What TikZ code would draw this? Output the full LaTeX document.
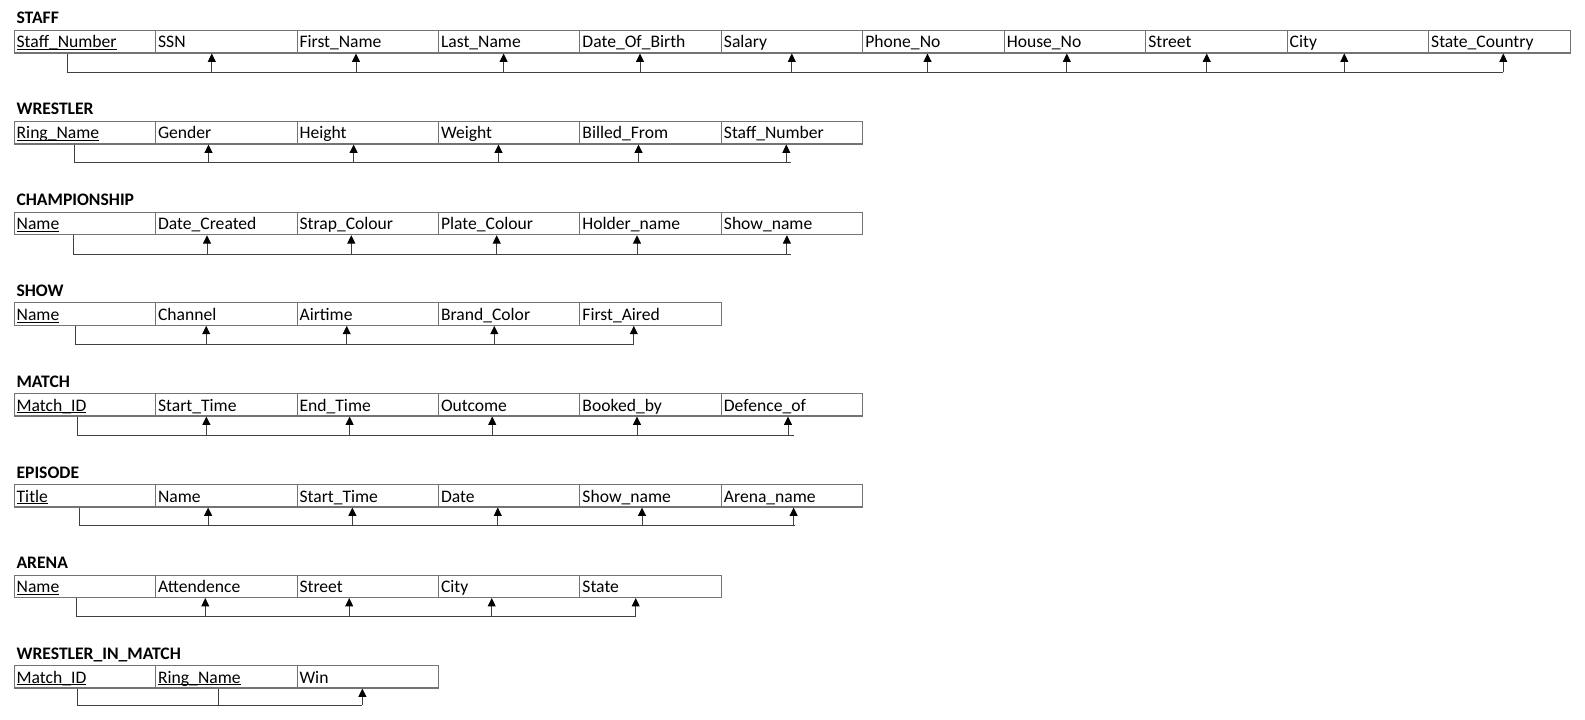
\documentclass[tikz,border=0pt]{standalone}
\usepackage{fontspec}
\setmainfont{Carlito}
\usetikzlibrary{arrows.meta}

% primary-key attribute: underlined name
\newcommand\pkey[1]{\setbox0=\hbox{#1}\rlap{\rule[-1.7pt]{\wd0}{0.7pt}}\box0}

\tikzset{
  attr/.style={draw=black!55, line width=0.8pt, anchor=north west,
    inner xsep=1.9pt, inner ysep=0pt, minimum width=106.09pt,
    text width=102.29pt, align=left, text height=13.1pt, text depth=3.75pt,
    font=\fontsize{13.2pt}{15pt}\selectfont},
  relname/.style={anchor=base west, inner sep=0pt,
    font=\fontsize{13.2pt}{15pt}\selectfont\bfseries},
  bus/.style={draw=black!75, line width=0.7pt},
  fk/.style={draw=black!75, line width=0.7pt,
    -{Triangle[width=6pt,length=6.3pt,fill=black,color=black]}}
}

% #1 prefix, #2 relation name, #3 top y, #4 attribute texts
\newcommand\relation[4]{%
  \node[relname] (#1-title) at (16.3,#3-6) {#2};
  \foreach \txt [count=\i] in {#4} {
    \node[attr] (#1-\i) at ({13.6+(\i-1)*141.45},#3) {\txt};
  }
}
% #1 prefix, #2 key x, #3 line y, #4 line end x, #5 column/x of each arrow
\newcommand\deps[5]{%
  \draw[bus] (#2,0 |- #1-1.south) |- (#4,#3);
  \foreach \c/\ax in {#5} {
    \draw[fk] (\ax,#3) -- (\ax,0 |- #1-\c.south);
  }
}

\begin{document}
\begin{tikzpicture}[x=0.75pt,y=-0.75pt]
\useasboundingbox (0,0) rectangle (1585,720);

\relation{staff}{STAFF}{30}{\pkey{Staff\_Number},SSN,First\_Name,Last\_Name,Date\_Of\_Birth,Salary,Phone\_No,House\_No,Street,City,State\_Country}
\deps{staff}{67.9}{72.3}{1503.3}{2/211.8,3/356,4/503.6,5/640,6/791.8,7/927.5,8/1066.8,9/1206.7,10/1344.3,11/1503.3}

\relation{wrestler}{WRESTLER}{121}{\pkey{Ring\_Name},Gender,Height,Weight,Billed\_From,Staff\_Number}
\deps{wrestler}{74.9}{162.7}{790.7}{2/208.5,3/353.6,4/498.5,5/638.5,6/786.3}

\relation{champ}{CHAMPIONSHIP}{211.7}{\pkey{Name},Date\_Created,Strap\_Colour,Plate\_Colour,Holder\_name,Show\_name}
\deps{champ}{73.8}{254}{790.8}{2/207,3/351.3,4/496.7,5/637,6/786.9}

\relation{show}{SHOW}{302.3}{\pkey{Name},Channel,Airtime,Brand\_Color,First\_Aired}
\deps{show}{75.8}{344}{633.8}{2/206.2,3/346.7,4/494.3,5/633.8}

\relation{match}{MATCH}{393}{\pkey{Match\_ID},Start\_Time,End\_Time,Outcome,Booked\_by,Defence\_of}
\deps{match}{77.7}{435.5}{793.6}{2/206.4,3/349.6,4/492.2,5/637,6/788}

\relation{episode}{EPISODE}{484}{\pkey{Title},Name,Start\_Time,Date,Show\_name,Arena\_name}
\deps{episode}{79.4}{525}{795.2}{2/208.1,3/352.4,4/497.8,5/642,6/793.6}

\relation{arena}{ARENA}{574.5}{\pkey{Name},Attendence,Street,City,State}
\deps{arena}{76.5}{616}{635.7}{2/205.3,3/349.2,4/491.7,5/635.7}

\relation{wim}{WRESTLER\_IN\_MATCH}{665}{\pkey{Match\_ID},\pkey{Ring\_Name},Win}
\deps{wim}{77.9}{705}{362.4}{3/362.4}
\draw[bus] (218,0 |- wim-2.south) -- (218,705);
\end{tikzpicture}
\end{document}
